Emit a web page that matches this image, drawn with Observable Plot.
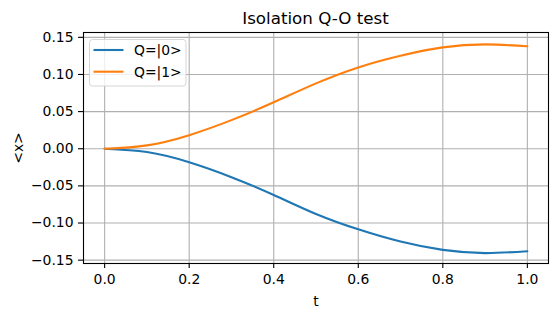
<!DOCTYPE html>
<html>
<head>
<meta charset="utf-8">
<script src="https://cdn.jsdelivr.net/npm/d3@7"></script>
<script src="https://cdn.jsdelivr.net/npm/@observablehq/plot@0.6"></script>
<style>
  html, body { margin: 0; padding: 0; background: white; }
  #wrap { position: relative; width: 556px; height: 316px; font-family: "DejaVu Sans", sans-serif; }
  #title { position: absolute; left: 83px; width: 465px; top: 10px; text-align: center; font-size: 16.7px; line-height: 16.7px; color: black; }
  #legend { position: absolute; left: 0; top: 0; pointer-events: none; }
</style>
</head>
<body>
<div id="wrap"><div id="title"></div></div>
<script>
const titleText = "Isolation Q-O test";
const xLabel = "t";
const yLabel = "<x>";
const seriesNames = ["Q=|0>", "Q=|1>"];
const seriesColors = ["#1f77b4", "#ff7f0e"];
const tValues = [0, 0.1, 0.2, 0.3, 0.4, 0.5, 0.6, 0.7, 0.8, 0.9, 1.0];
const q0Values = [0, -0.0045, -0.0182, -0.0383, -0.0622, -0.0878, -0.1085, -0.1250, -0.1362, -0.1405, -0.1380];
const q1Values = [0, 0.0045, 0.0183, 0.0385, 0.0625, 0.0880, 0.1095, 0.1252, 0.1365, 0.1405, 0.1380];
const xTicks = [0, 0.2, 0.4, 0.6, 0.8, 1.0];
const yTicks = [-0.15, -0.10, -0.05, 0, 0.05, 0.10, 0.15];

const data = [];
[q0Values, q1Values].forEach((vals, i) => {
  tValues.forEach((t, j) => data.push({t, v: vals[j], series: seriesNames[i]}));
});

const fmtX = d3.format(".1f");
const fmtY = d3.format(".2f");

const chart = Plot.plot({
  width: 556,
  height: 316,
  marginLeft: 83,
  marginRight: 8,
  marginTop: 32,
  marginBottom: 53,
  style: {fontFamily: "DejaVu Sans, sans-serif", fontSize: "13.9px", color: "black", background: "white"},
  x: {domain: [-0.05, 1.05]},
  y: {domain: [-0.1545, 0.1565]},
  color: {domain: seriesNames, range: seriesColors},
  marks: [
    Plot.gridX(xTicks, {stroke: "#b0b0b0", strokeOpacity: 1, strokeWidth: 1.1}),
    Plot.gridY(yTicks, {stroke: "#b0b0b0", strokeOpacity: 1, strokeWidth: 1.1}),
    Plot.line(data, {x: "t", y: "v", z: "series", stroke: "series", strokeWidth: 2.1, curve: "natural"}),
    Plot.frame({stroke: "black", strokeWidth: 1.1}),
    Plot.axisX(xTicks, {tickSize: 5, tickPadding: 6, tickFormat: fmtX, label: xLabel, labelAnchor: "center", labelArrow: "none", labelOffset: 42, strokeWidth: 1.1}),
    Plot.axisY(yTicks, {tickSize: 5, tickPadding: 5, tickFormat: fmtY, label: yLabel, labelAnchor: "center", labelArrow: "none", labelOffset: 70, strokeWidth: 1.1})
  ]
});

const wrap = document.getElementById("wrap");
wrap.insertBefore(chart, wrap.firstChild);
document.getElementById("title").textContent = titleText;

// legend overlay
const lg = d3.select(wrap).append("svg")
  .attr("id", "legend").attr("width", 556).attr("height", 316);
lg.append("rect")
  .attr("x", 89.5).attr("y", 39.5).attr("width", 96.5).attr("height", 46.5)
  .attr("rx", 3).attr("fill", "white").attr("fill-opacity", 0.8)
  .attr("stroke", "#d5d5d5").attr("stroke-width", 1);
seriesNames.forEach((name, i) => {
  const y = 50 + i * 21.7;
  lg.append("line").attr("x1", 93.5).attr("x2", 123.5).attr("y1", y).attr("y2", y)
    .attr("stroke", seriesColors[i]).attr("stroke-width", 2.1);
  lg.append("text").attr("x", 134).attr("y", y + 5)
    .attr("font-family", "DejaVu Sans, sans-serif").attr("font-size", 13.9)
    .attr("fill", "black").text(name);
});
</script>
</body>
</html>
